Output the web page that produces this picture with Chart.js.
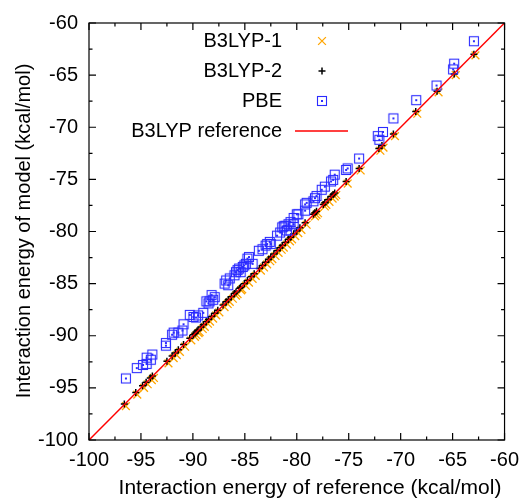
<!DOCTYPE html>
<html>
<head>
<meta charset="utf-8">
<script src="https://cdn.jsdelivr.net/npm/chart.js@4.4.0/dist/chart.umd.min.js"></script>
<style>
  body { margin: 0; background: #fff; }
  #wrap { width: 527px; height: 499px; }
</style>
</head>
<body>
<div id="wrap"><canvas id="chart" width="527" height="499"></canvas></div>
<script>
// values (kcal/mol)
const b3lyp1X = [-96.45,-95.35,-94.7,-94.35,-93.95,-93.75,-92.35,-91.85,-91.55,-91.25,-90.75,-90.15,-89.8,-89.65,-89.45,-89.35,-89.05,-88.85,-88.55,-88.35,-88.05,-87.75,-87.45,-86.95,-86.65,-86.45,-86.15,-85.85,-85.7,-85.35,-85.25,-84.9,-84.6,-84.25,-83.95,-83.45,-83.15,-82.85,-82.55,-82.35,-82.05,-81.75,-81.45,-81.25,-80.95,-80.65,-80.45,-80.15,-79.85,-79.55,-79.05,-78.25,-78.1,-77.95,-77.3,-77.15,-76.85,-76.55,-76.35,-76.2,-75.1,-73.85,-71.95,-71.65,-70.55,-68.4,-66.35,-64.7,-62.8];
const b3lyp1Y = [-96.75,-95.65,-95.0,-94.65,-94.25,-94.05,-92.65,-92.15,-91.85,-91.55,-91.05,-90.45,-90.1,-89.95,-89.75,-89.65,-89.35,-89.15,-88.85,-88.65,-88.35,-88.05,-87.75,-87.25,-86.95,-86.75,-86.45,-86.15,-86.0,-85.65,-85.55,-85.2,-84.9,-84.55,-84.25,-83.75,-83.45,-83.15,-82.85,-82.65,-82.35,-82.05,-81.75,-81.55,-81.25,-80.95,-80.75,-80.45,-80.15,-79.85,-79.35,-78.55,-78.4,-78.25,-77.6,-77.45,-77.15,-76.85,-76.65,-76.5,-75.4,-74.15,-72.25,-71.95,-70.85,-68.7,-66.65,-65.0,-63.1];
const b3lyp2X = [-96.6,-95.5,-94.85,-94.5,-94.1,-93.9,-92.5,-92.0,-91.7,-91.4,-90.9,-90.3,-89.95,-89.8,-89.6,-89.5,-89.2,-89.0,-88.7,-88.5,-88.2,-87.9,-87.6,-87.1,-86.8,-86.6,-86.3,-86.0,-85.85,-85.5,-85.4,-85.05,-84.75,-84.4,-84.1,-83.6,-83.3,-83.0,-82.7,-82.5,-82.2,-81.9,-81.6,-81.4,-81.1,-80.8,-80.6,-80.3,-80.0,-79.7,-79.2,-78.4,-78.25,-78.1,-77.45,-77.3,-77.0,-76.7,-76.5,-76.35,-75.25,-74.0,-72.1,-71.8,-70.7,-68.55,-66.5,-64.85,-62.95];
const b3lyp2Y = [-96.55,-95.45,-94.8,-94.45,-94.05,-93.85,-92.45,-91.95,-91.65,-91.35,-90.85,-90.25,-89.9,-89.75,-89.55,-89.45,-89.15,-88.95,-88.65,-88.45,-88.15,-87.85,-87.55,-87.05,-86.75,-86.55,-86.25,-85.95,-85.8,-85.45,-85.35,-85.0,-84.7,-84.35,-84.05,-83.55,-83.25,-82.95,-82.65,-82.45,-82.15,-81.85,-81.55,-81.35,-81.05,-80.75,-80.55,-80.25,-79.95,-79.65,-79.15,-78.35,-78.2,-78.05,-77.4,-77.25,-76.95,-76.65,-76.45,-76.3,-75.2,-73.95,-72.05,-71.75,-70.65,-68.5,-66.55,-64.9,-63.0];
const pbeX = [-96.45,-95.4,-94.8,-94.45,-94.45,-94.05,-93.9,-92.6,-92.6,-92.0,-91.85,-91.4,-91.0,-90.9,-90.3,-89.95,-89.7,-89.5,-89.0,-88.5,-88.7,-88.4,-88.05,-88.2,-87.9,-86.95,-86.8,-86.6,-86.45,-86.0,-85.85,-85.7,-85.55,-85.4,-85.2,-85.05,-84.9,-84.75,-84.6,-84.25,-83.65,-83.3,-83.0,-82.85,-82.6,-82.5,-81.9,-81.6,-81.4,-81.25,-81.1,-80.95,-80.8,-80.6,-80.6,-80.3,-80.3,-80.0,-79.85,-79.2,-79.05,-79.2,-78.4,-78.25,-78.1,-77.6,-77.3,-76.7,-76.5,-76.35,-75.25,-75.1,-74.0,-72.2,-72.05,-71.7,-70.7,-68.5,-66.55,-64.95,-64.85,-62.95];
const pbeY = [-94.1,-93.1,-92.8,-92.7,-92.1,-92.3,-91.8,-90.7,-90.95,-89.9,-89.7,-89.7,-89.5,-88.9,-88.0,-88.2,-88.25,-88.05,-87.8,-86.9,-86.7,-86.7,-86.55,-86.1,-86.3,-85.0,-84.7,-85.15,-84.5,-84.2,-83.9,-83.7,-83.55,-83.9,-83.4,-83.25,-83.1,-82.6,-82.45,-83.1,-81.85,-81.7,-81.35,-81.2,-81.0,-81.2,-80.4,-80.1,-79.6,-79.5,-79.45,-79.9,-79.3,-79.1,-79.9,-78.7,-79.3,-78.35,-78.35,-77.4,-77.25,-78.0,-77.1,-76.8,-76.6,-76.0,-75.7,-75.2,-75.05,-74.55,-74.1,-73.95,-73.0,-70.85,-71.2,-70.45,-69.15,-67.4,-66.0,-64.45,-63.9,-61.75];
const refLineX = [-100, -60];
const axisMin = -100, axisMax = -60;
const seriesNames = ['B3LYP-1', 'B3LYP-2', 'PBE', 'B3LYP reference'];
const xTitle = 'Interaction energy of reference (kcal/mol)';
const yTitle = 'Interaction energy of model (kcal/mol)';

const FONT = "'Liberation Sans', Arial, Helvetica, sans-serif";
const pts = (xs, ys) => xs.map((x, i) => ({x, y: ys[i]}));

// hollow blue square with a dot, like gnuplot point type 12
function pbeMarker() {
  const c = document.createElement('canvas');
  c.width = 12; c.height = 12;
  const g = c.getContext('2d');
  g.strokeStyle = '#2b2bff';
  g.lineWidth = 1.1;
  g.strokeRect(1.5, 1.5, 9, 9);
  g.fillStyle = '#2b2bff';
  g.fillRect(5, 5, 2, 2);
  return c;
}
const pbeImg = pbeMarker();

const frame = {
  id: 'frame',
  afterDatasetsDraw(chart) {
    const {ctx, chartArea: a} = chart;
    const xs = chart.scales.x, ys = chart.scales.y;
    ctx.save();
    ctx.strokeStyle = '#000';
    ctx.lineWidth = 1.2;
    ctx.beginPath();
    for (let v = axisMin; v <= axisMax + 0.01; v += 2.5) {
      const len = (Math.abs(v % 5) < 0.01) ? 7 : 3.5;
      const px = xs.getPixelForValue(v), py = ys.getPixelForValue(v);
      ctx.moveTo(px, a.bottom); ctx.lineTo(px, a.bottom - len);
      ctx.moveTo(px, a.top); ctx.lineTo(px, a.top + len);
      ctx.moveTo(a.left, py); ctx.lineTo(a.left + len, py);
      ctx.moveTo(a.right, py); ctx.lineTo(a.right - len, py);
    }
    ctx.stroke();
    ctx.strokeRect(a.left, a.top, a.right - a.left, a.bottom - a.top);

    // axis titles
    ctx.fillStyle = '#000';
    ctx.font = '21px ' + FONT;
    ctx.textAlign = 'center';
    ctx.textBaseline = 'middle';
    ctx.fillText(xTitle, 310, 488);
    ctx.save();
    ctx.font = '20px ' + FONT;
    ctx.translate(24, 231);
    ctx.rotate(-Math.PI / 2);
    ctx.fillText(yTitle, 0, 0);
    ctx.restore();

    // legend, gnuplot style: right-aligned text, sample to the right
    const rows = [41, 71, 101, 131];
    ctx.font = '20px ' + FONT;
    ctx.textAlign = 'right';
    chart.data.datasets.forEach((ds, i) => {
      const y = rows[i];
      ctx.fillStyle = '#000';
      ctx.fillText(ds.label, 282, y);
      if (ds.showLine) {
        ctx.strokeStyle = ds.borderColor;
        ctx.lineWidth = ds.borderWidth;
        ctx.beginPath(); ctx.moveTo(295, y); ctx.lineTo(348, y); ctx.stroke();
      } else {
        ctx.strokeStyle = ds.pointBorderColor;
        ctx.fillStyle = ds.pointBorderColor;
        ctx.lineWidth = ds.pointBorderWidth;
        Chart.helpers.drawPoint(ctx, {pointStyle: ds.pointStyle, radius: ds.pointRadius, rotation: 0, borderWidth: ds.pointBorderWidth}, 322, y);
      }
    });
    ctx.restore();
  }
};

new Chart(document.getElementById('chart'), {
  type: 'scatter',
  data: {
    datasets: [
      {label: seriesNames[0], data: pts(b3lyp1X, b3lyp1Y), pointStyle: 'crossRot', pointRadius: 5.5,
       pointBorderColor: '#ffa500', pointBorderWidth: 1.3, order: 4},
      {label: seriesNames[1], data: pts(b3lyp2X, b3lyp2Y), pointStyle: 'cross', pointRadius: 3.5,
       pointBorderColor: '#000', pointBorderWidth: 1.5, order: 3},
      {label: seriesNames[2], data: pts(pbeX, pbeY), pointStyle: pbeImg, pointRadius: 5,
       pointBorderColor: '#2b2bff', pointBorderWidth: 1, order: 2},
      {label: seriesNames[3], type: 'line', data: pts(refLineX, refLineX), showLine: true,
       borderColor: '#ff0000', borderWidth: 1.5, pointRadius: 0, fill: false, order: 1}
    ]
  },
  options: {
    responsive: false,
    animation: false,
    devicePixelRatio: 1,
    layout: {padding: {top: 18, right: 16, left: 0, bottom: 0}},
    plugins: {legend: {display: false}, tooltip: {enabled: false}},
    scales: {
      x: {
        type: 'linear', min: axisMin, max: axisMax,
        grid: {display: false, drawTicks: false},
        border: {display: false},
        ticks: {stepSize: 5, padding: 8, color: '#000', font: {family: FONT, size: 20}},
        afterFit(s) { s.height = 59; }
      },
      y: {
        type: 'linear', min: axisMin, max: axisMax,
        grid: {display: false, drawTicks: false},
        border: {display: false},
        ticks: {stepSize: 5, padding: 11, color: '#000', font: {family: FONT, size: 20}},
        afterFit(s) { s.width = 89; }
      }
    }
  },
  plugins: [frame]
});
</script>
</body>
</html>
